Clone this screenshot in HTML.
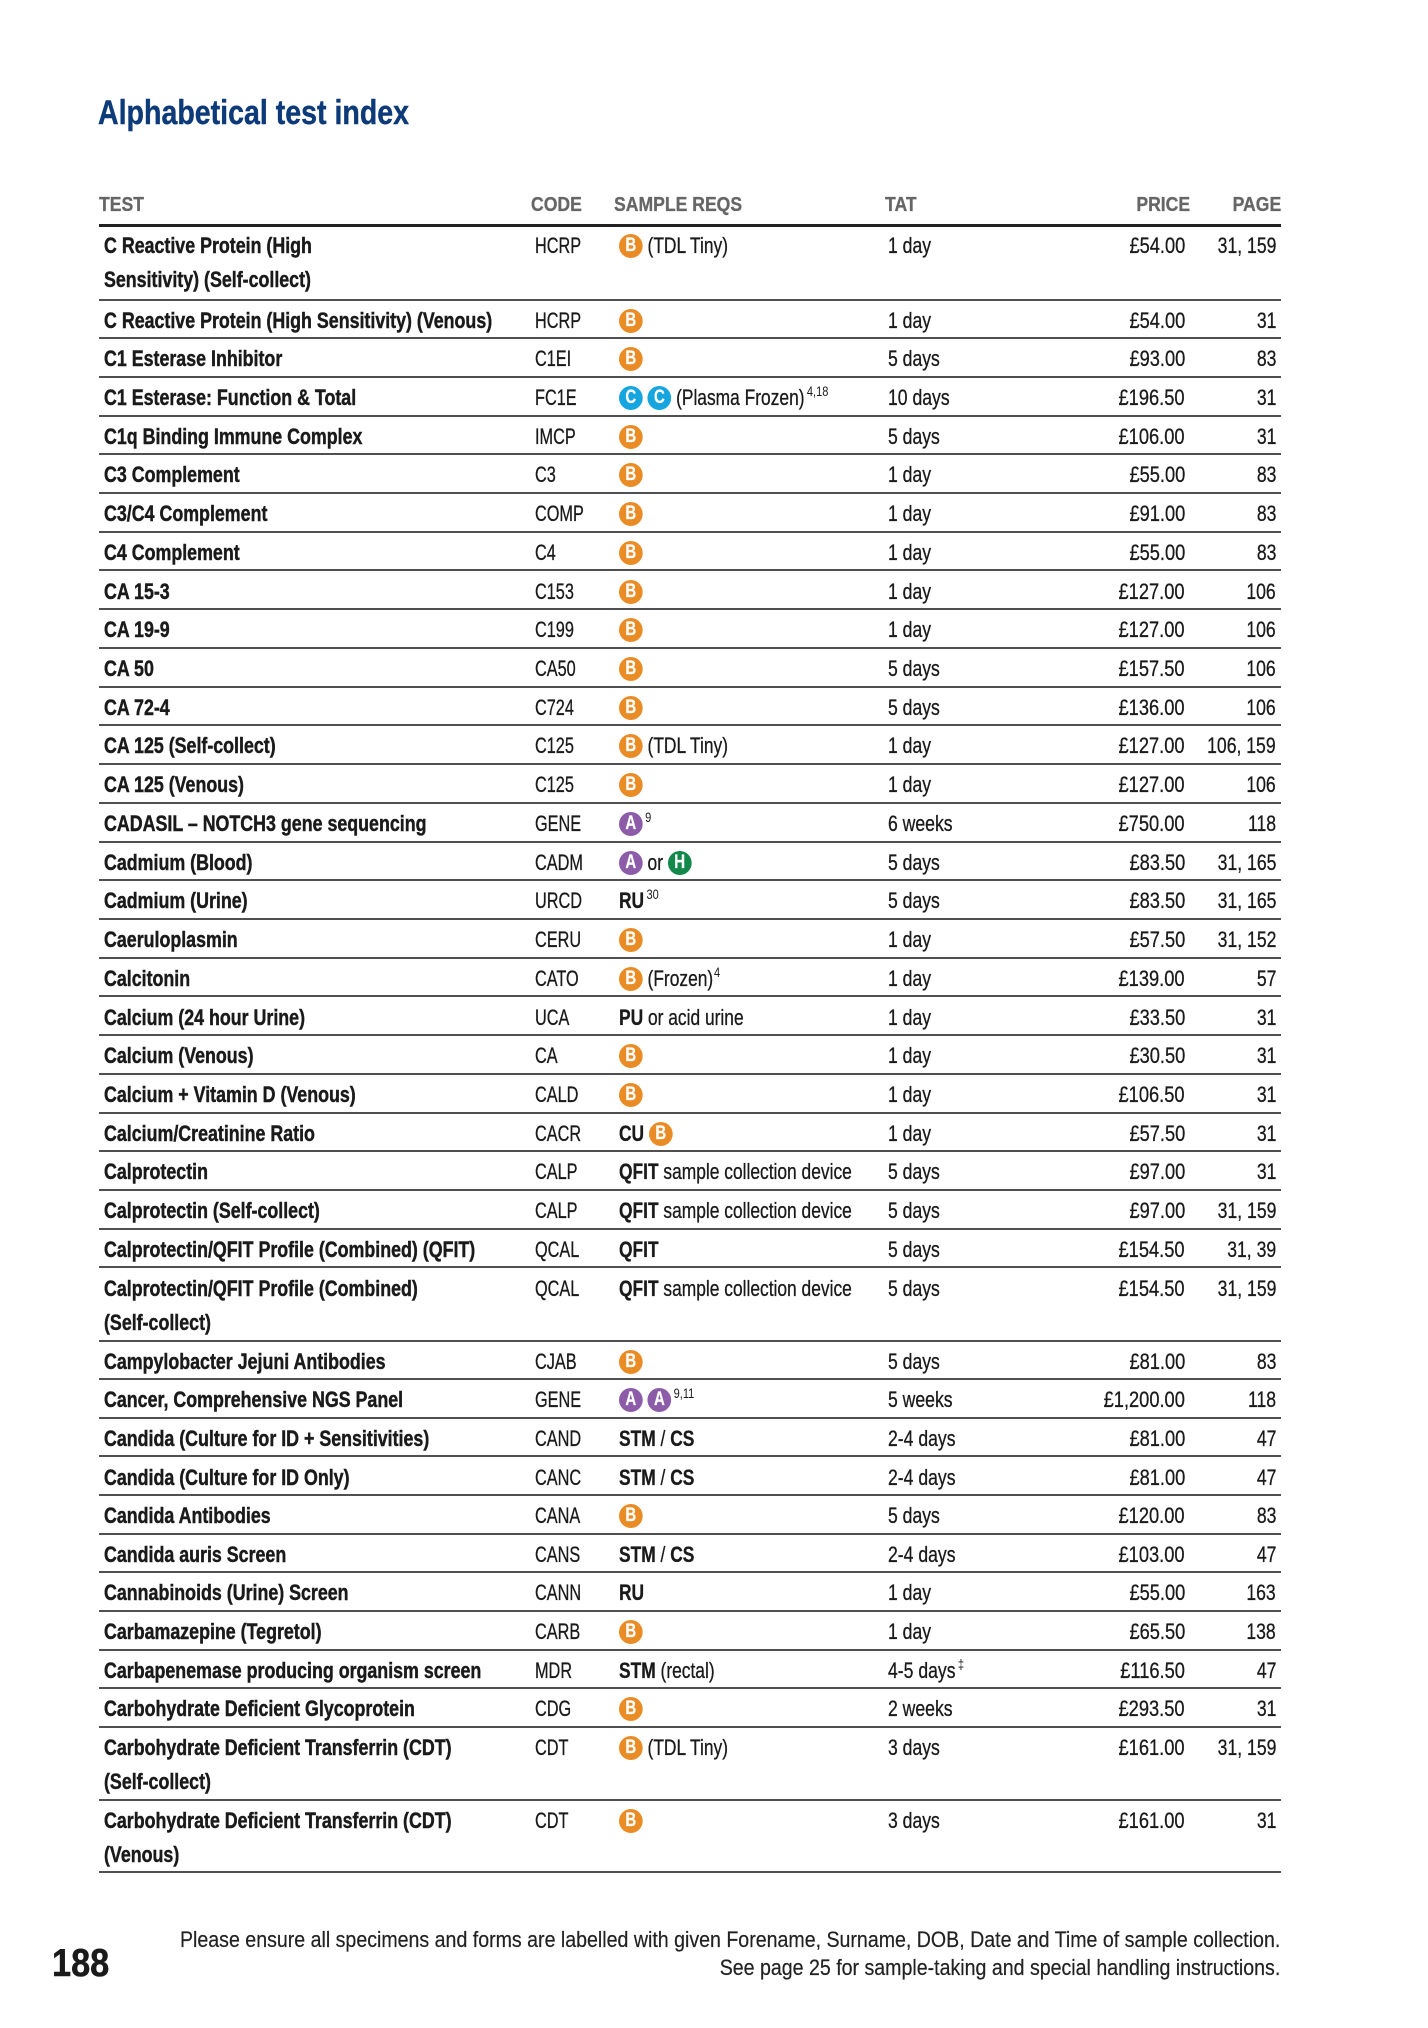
<!DOCTYPE html>
<html><head><meta charset="utf-8"><style>
html,body{margin:0;padding:0;background:#fff}
body{width:1428px;height:2028px;position:relative;overflow:hidden;font-family:"Liberation Sans",sans-serif;color:#1a1a1a}
.title{position:absolute;left:98px;top:96px;font-size:34px;line-height:34px;font-weight:bold;color:#0d3a78;white-space:nowrap;transform:scaleX(0.84);transform-origin:left center;-webkit-text-stroke:0.4px #0d3a78}
.h{position:absolute;top:195px;font-size:20px;line-height:20px;font-weight:bold;color:#666;white-space:nowrap;transform:scaleX(0.88);transform-origin:left center;-webkit-text-stroke:0.3px #666}
.hrr{transform-origin:right center}
.hr{position:absolute;left:99px;width:1182px;top:224px;height:3px;background:#222}
.r{position:absolute;left:99px;width:1182px;border-bottom:2px solid #505050;box-sizing:border-box}
.r>div{position:absolute;top:3px;line-height:34px;font-size:22px;white-space:nowrap;-webkit-text-stroke:0.3px #1a1a1a}
.t{left:5px;font-weight:bold;transform:scaleX(0.81);transform-origin:left center;-webkit-text-stroke:0.45px #1a1a1a !important}
.c{left:436px;transform:scaleX(0.74);transform-origin:left center}
.s{left:520px;transform:scaleX(0.79);transform-origin:left center}
.a{left:789px;transform:scaleX(0.8);transform-origin:left center}
.p{right:96px;transform:scaleX(0.83);transform-origin:right center}
.g{right:5px;transform:scaleX(0.8);transform-origin:right center}
.ci{display:inline-block;width:30px;height:24px;border-radius:50%;color:#fff;font-weight:bold;font-size:19px;line-height:24px;text-align:center;vertical-align:2px;font-style:normal;-webkit-text-stroke:0.2px #fff}
.B{background:#ea8c26}.A{background:#8c5ca9}.H{background:#12894a}.C{background:#17a5e0}
sup{font-size:14px;vertical-align:0;position:relative;top:-9px;margin-left:3px;-webkit-text-stroke:0}
b{font-weight:bold}
.foot{position:absolute;right:148px;top:1926px;font-size:22px;line-height:28px;text-align:right;color:#222;white-space:nowrap;transform:scaleX(0.89);transform-origin:right center;-webkit-text-stroke:0.2px #222}
.pn{position:absolute;left:52px;top:1944px;font-size:39px;line-height:39px;font-weight:bold;color:#1a1a1a;transform:scaleX(0.88);transform-origin:left center;-webkit-text-stroke:0.5px #1a1a1a}
</style></head><body>
<div class="title">Alphabetical test index</div>
<div class="h" style="left:99px">TEST</div>
<div class="h" style="left:531px">CODE</div>
<div class="h" style="left:614px">SAMPLE REQS</div>
<div class="h" style="left:885px">TAT</div>
<div class="h hrr" style="right:238px">PRICE</div>
<div class="h hrr" style="right:147px">PAGE</div>
<div class="hr"></div>

<div class="r" style="top:226px;height:74.5px"><div class="t">C Reactive Protein (High<br>Sensitivity) (Self-collect)</div><div class="c">HCRP</div><div class="s"><i class="ci B">B</i> (TDL Tiny)</div><div class="a">1 day</div><div class="p">£54.00</div><div class="g">31, 159</div></div>
<div class="r" style="top:300.5px;height:38.7px"><div class="t">C Reactive Protein (High Sensitivity) (Venous)</div><div class="c">HCRP</div><div class="s"><i class="ci B">B</i></div><div class="a">1 day</div><div class="p">£54.00</div><div class="g">31</div></div>
<div class="r" style="top:339.2px;height:38.7px"><div class="t">C1 Esterase Inhibitor</div><div class="c">C1EI</div><div class="s"><i class="ci B">B</i></div><div class="a">5 days</div><div class="p">£93.00</div><div class="g">83</div></div>
<div class="r" style="top:377.9px;height:38.8px"><div class="t">C1 Esterase: Function &amp; Total</div><div class="c">FC1E</div><div class="s"><i class="ci C">C</i> <i class="ci C">C</i> (Plasma Frozen)<sup>4,18</sup></div><div class="a">10 days</div><div class="p">£196.50</div><div class="g">31</div></div>
<div class="r" style="top:416.7px;height:38.7px"><div class="t">C1q Binding Immune Complex</div><div class="c">IMCP</div><div class="s"><i class="ci B">B</i></div><div class="a">5 days</div><div class="p">£106.00</div><div class="g">31</div></div>
<div class="r" style="top:455.4px;height:38.7px"><div class="t">C3 Complement</div><div class="c">C3</div><div class="s"><i class="ci B">B</i></div><div class="a">1 day</div><div class="p">£55.00</div><div class="g">83</div></div>
<div class="r" style="top:494.1px;height:38.7px"><div class="t">C3/C4 Complement</div><div class="c">COMP</div><div class="s"><i class="ci B">B</i></div><div class="a">1 day</div><div class="p">£91.00</div><div class="g">83</div></div>
<div class="r" style="top:532.8px;height:38.7px"><div class="t">C4 Complement</div><div class="c">C4</div><div class="s"><i class="ci B">B</i></div><div class="a">1 day</div><div class="p">£55.00</div><div class="g">83</div></div>
<div class="r" style="top:571.5px;height:38.8px"><div class="t">CA 15-3</div><div class="c">C153</div><div class="s"><i class="ci B">B</i></div><div class="a">1 day</div><div class="p">£127.00</div><div class="g">106</div></div>
<div class="r" style="top:610.3px;height:38.7px"><div class="t">CA 19-9</div><div class="c">C199</div><div class="s"><i class="ci B">B</i></div><div class="a">1 day</div><div class="p">£127.00</div><div class="g">106</div></div>
<div class="r" style="top:649px;height:38.7px"><div class="t">CA 50</div><div class="c">CA50</div><div class="s"><i class="ci B">B</i></div><div class="a">5 days</div><div class="p">£157.50</div><div class="g">106</div></div>
<div class="r" style="top:687.7px;height:38.7px"><div class="t">CA 72-4</div><div class="c">C724</div><div class="s"><i class="ci B">B</i></div><div class="a">5 days</div><div class="p">£136.00</div><div class="g">106</div></div>
<div class="r" style="top:726.4px;height:38.7px"><div class="t">CA 125 (Self-collect)</div><div class="c">C125</div><div class="s"><i class="ci B">B</i> (TDL Tiny)</div><div class="a">1 day</div><div class="p">£127.00</div><div class="g">106, 159</div></div>
<div class="r" style="top:765.1px;height:38.8px"><div class="t">CA 125 (Venous)</div><div class="c">C125</div><div class="s"><i class="ci B">B</i></div><div class="a">1 day</div><div class="p">£127.00</div><div class="g">106</div></div>
<div class="r" style="top:803.9px;height:38.7px"><div class="t">CADASIL – NOTCH3 gene sequencing</div><div class="c">GENE</div><div class="s"><i class="ci A">A</i><sup>9</sup></div><div class="a">6 weeks</div><div class="p">£750.00</div><div class="g">118</div></div>
<div class="r" style="top:842.6px;height:38.7px"><div class="t">Cadmium (Blood)</div><div class="c">CADM</div><div class="s"><i class="ci A">A</i> or <i class="ci H">H</i></div><div class="a">5 days</div><div class="p">£83.50</div><div class="g">31, 165</div></div>
<div class="r" style="top:881.3px;height:38.7px"><div class="t">Cadmium (Urine)</div><div class="c">URCD</div><div class="s"><b>RU</b><sup>30</sup></div><div class="a">5 days</div><div class="p">£83.50</div><div class="g">31, 165</div></div>
<div class="r" style="top:920px;height:38.7px"><div class="t">Caeruloplasmin</div><div class="c">CERU</div><div class="s"><i class="ci B">B</i></div><div class="a">1 day</div><div class="p">£57.50</div><div class="g">31, 152</div></div>
<div class="r" style="top:958.7px;height:38.8px"><div class="t">Calcitonin</div><div class="c">CATO</div><div class="s"><i class="ci B">B</i> (Frozen)<sup style="margin-left:1px">4</sup></div><div class="a">1 day</div><div class="p">£139.00</div><div class="g">57</div></div>
<div class="r" style="top:997.5px;height:38.7px"><div class="t">Calcium (24 hour Urine)</div><div class="c">UCA</div><div class="s"><b>PU</b> or acid urine</div><div class="a">1 day</div><div class="p">£33.50</div><div class="g">31</div></div>
<div class="r" style="top:1036.2px;height:38.7px"><div class="t">Calcium (Venous)</div><div class="c">CA</div><div class="s"><i class="ci B">B</i></div><div class="a">1 day</div><div class="p">£30.50</div><div class="g">31</div></div>
<div class="r" style="top:1074.9px;height:38.7px"><div class="t">Calcium + Vitamin D (Venous)</div><div class="c">CALD</div><div class="s"><i class="ci B">B</i></div><div class="a">1 day</div><div class="p">£106.50</div><div class="g">31</div></div>
<div class="r" style="top:1113.6px;height:38.7px"><div class="t">Calcium/Creatinine Ratio</div><div class="c">CACR</div><div class="s"><b>CU</b> <i class="ci B">B</i></div><div class="a">1 day</div><div class="p">£57.50</div><div class="g">31</div></div>
<div class="r" style="top:1152.3px;height:38.8px"><div class="t">Calprotectin</div><div class="c">CALP</div><div class="s"><b>QFIT</b> sample collection device</div><div class="a">5 days</div><div class="p">£97.00</div><div class="g">31</div></div>
<div class="r" style="top:1191.1px;height:38.7px"><div class="t">Calprotectin (Self-collect)</div><div class="c">CALP</div><div class="s"><b>QFIT</b> sample collection device</div><div class="a">5 days</div><div class="p">£97.00</div><div class="g">31, 159</div></div>
<div class="r" style="top:1229.8px;height:38.7px"><div class="t">Calprotectin/QFIT Profile (Combined) (QFIT)</div><div class="c">QCAL</div><div class="s"><b>QFIT</b></div><div class="a">5 days</div><div class="p">£154.50</div><div class="g">31, 39</div></div>
<div class="r" style="top:1268.5px;height:73px"><div class="t">Calprotectin/QFIT Profile (Combined)<br>(Self-collect)</div><div class="c">QCAL</div><div class="s"><b>QFIT</b> sample collection device</div><div class="a">5 days</div><div class="p">£154.50</div><div class="g">31, 159</div></div>
<div class="r" style="top:1341.5px;height:38.7px"><div class="t">Campylobacter Jejuni Antibodies</div><div class="c">CJAB</div><div class="s"><i class="ci B">B</i></div><div class="a">5 days</div><div class="p">£81.00</div><div class="g">83</div></div>
<div class="r" style="top:1380.2px;height:38.6px"><div class="t">Cancer, Comprehensive NGS Panel</div><div class="c">GENE</div><div class="s"><i class="ci A">A</i> <i class="ci A">A</i><sup>9,11</sup></div><div class="a">5 weeks</div><div class="p">£1,200.00</div><div class="g">118</div></div>
<div class="r" style="top:1418.8px;height:38.7px"><div class="t">Candida (Culture for ID + Sensitivities)</div><div class="c">CAND</div><div class="s"><b>STM</b> / <b>CS</b></div><div class="a">2-4 days</div><div class="p">£81.00</div><div class="g">47</div></div>
<div class="r" style="top:1457.5px;height:38.6px"><div class="t">Candida (Culture for ID Only)</div><div class="c">CANC</div><div class="s"><b>STM</b> / <b>CS</b></div><div class="a">2-4 days</div><div class="p">£81.00</div><div class="g">47</div></div>
<div class="r" style="top:1496.1px;height:38.7px"><div class="t">Candida Antibodies</div><div class="c">CANA</div><div class="s"><i class="ci B">B</i></div><div class="a">5 days</div><div class="p">£120.00</div><div class="g">83</div></div>
<div class="r" style="top:1534.8px;height:38.6px"><div class="t">Candida auris Screen</div><div class="c">CANS</div><div class="s"><b>STM</b> / <b>CS</b></div><div class="a">2-4 days</div><div class="p">£103.00</div><div class="g">47</div></div>
<div class="r" style="top:1573.4px;height:38.7px"><div class="t">Cannabinoids (Urine) Screen</div><div class="c">CANN</div><div class="s"><b>RU</b></div><div class="a">1 day</div><div class="p">£55.00</div><div class="g">163</div></div>
<div class="r" style="top:1612.1px;height:38.6px"><div class="t">Carbamazepine (Tegretol)</div><div class="c">CARB</div><div class="s"><i class="ci B">B</i></div><div class="a">1 day</div><div class="p">£65.50</div><div class="g">138</div></div>
<div class="r" style="top:1650.7px;height:38.7px"><div class="t">Carbapenemase producing organism screen</div><div class="c">MDR</div><div class="s"><b>STM</b> (rectal)</div><div class="a">4-5 days<sup>‡</sup></div><div class="p">£116.50</div><div class="g">47</div></div>
<div class="r" style="top:1689.4px;height:38.6px"><div class="t">Carbohydrate Deficient Glycoprotein</div><div class="c">CDG</div><div class="s"><i class="ci B">B</i></div><div class="a">2 weeks</div><div class="p">£293.50</div><div class="g">31</div></div>
<div class="r" style="top:1728px;height:72.5px"><div class="t">Carbohydrate Deficient Transferrin (CDT)<br>(Self-collect)</div><div class="c">CDT</div><div class="s"><i class="ci B">B</i> (TDL Tiny)</div><div class="a">3 days</div><div class="p">£161.00</div><div class="g">31, 159</div></div>
<div class="r" style="top:1800.5px;height:72.5px"><div class="t">Carbohydrate Deficient Transferrin (CDT)<br>(Venous)</div><div class="c">CDT</div><div class="s"><i class="ci B">B</i></div><div class="a">3 days</div><div class="p">£161.00</div><div class="g">31</div></div>

<div class="pn">188</div>
<div class="foot">Please ensure all specimens and forms are labelled with given Forename, Surname, DOB, Date and Time of sample collection.<br>See page 25 for sample-taking and special handling instructions.</div>
</body></html>
